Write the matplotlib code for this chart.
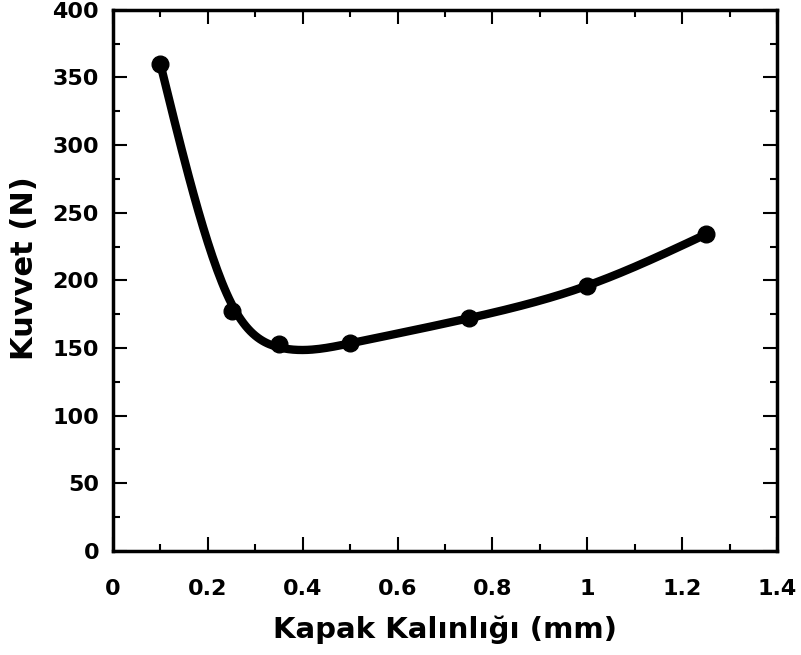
import numpy as np
import matplotlib
matplotlib.use("Agg")
import matplotlib.pyplot as plt
from matplotlib.ticker import MultipleLocator

# --- data ---
thickness = [0.1, 0.25, 0.35, 0.5, 0.75, 1.0, 1.25]   # mm
force = [360, 177, 153, 154, 172, 196, 234]            # N
x_ticks = [0, 0.2, 0.4, 0.6, 0.8, 1, 1.2, 1.4]
x_tick_labels = ["0", "0.2", "0.4", "0.6", "0.8", "1", "1.2", "1.4"]
y_ticks = [0, 50, 100, 150, 200, 250, 300, 350, 400]


def smooth_curve(x, y, lam=4e-5, step=0.005):
    # penalised (smoothing-spline like) curve through the measured points,
    # end points held firmly so the line starts/ends on the markers
    x = np.asarray(x, float)
    y = np.asarray(y, float)
    w = np.ones(len(x))
    w[0] = w[-1] = 30
    xs = np.arange(x[0], x[-1] + step / 2, step)
    n = len(xs)
    S = np.zeros((len(x), n))
    for i, xi in enumerate(x):
        S[i, np.argmin(abs(xs - xi))] = 1
    D = (np.eye(n, k=0)[:-2] - 2 * np.eye(n, k=1)[:-2] + np.eye(n, k=2)[:-2]) / step ** 2
    A = S.T @ (w[:, None] * S) + lam * step * D.T @ D
    return xs, np.linalg.solve(A, S.T @ (w * y))


plt.rcParams["font.family"] = ["DejaVu Sans"]
plt.rcParams["font.weight"] = "bold"

fig = plt.figure(figsize=(8.01, 6.55), dpi=100)
ax = fig.add_axes([0.141, 0.159, 0.829, 0.826])

xs, ys = smooth_curve(thickness, force)
ax.plot(xs, ys, color="black", linewidth=6, solid_capstyle="round")
ax.plot(thickness, force, "o", color="black", markersize=12)

ax.set_xlim(0, 1.4)
ax.set_ylim(0, 400)
ax.set_xticks(x_ticks)
ax.set_xticklabels(x_tick_labels)
ax.set_yticks(y_ticks)
ax.xaxis.set_minor_locator(MultipleLocator(0.1))
ax.yaxis.set_minor_locator(MultipleLocator(25))

for s in ax.spines.values():
    s.set_linewidth(2.5)
ax.tick_params(which="both", direction="in", top=True, right=True, width=1.5,
               labelsize=16)
ax.tick_params(axis="x", pad=20)
ax.tick_params(axis="y", pad=10)
ax.tick_params(which="major", length=10)
ax.tick_params(which="minor", length=5)
for lab in ax.get_xticklabels() + ax.get_yticklabels():
    lab.set_fontweight("bold")

ax.set_xlabel("Kapak Kalınlığı (mm)", fontsize=21, fontweight="bold", labelpad=12)
ax.set_ylabel("Kuvvet (N)", fontsize=22, fontweight="bold")
ax.yaxis.set_label_coords(-0.111, 0.523)

fig.savefig("out.png", dpi=100)
